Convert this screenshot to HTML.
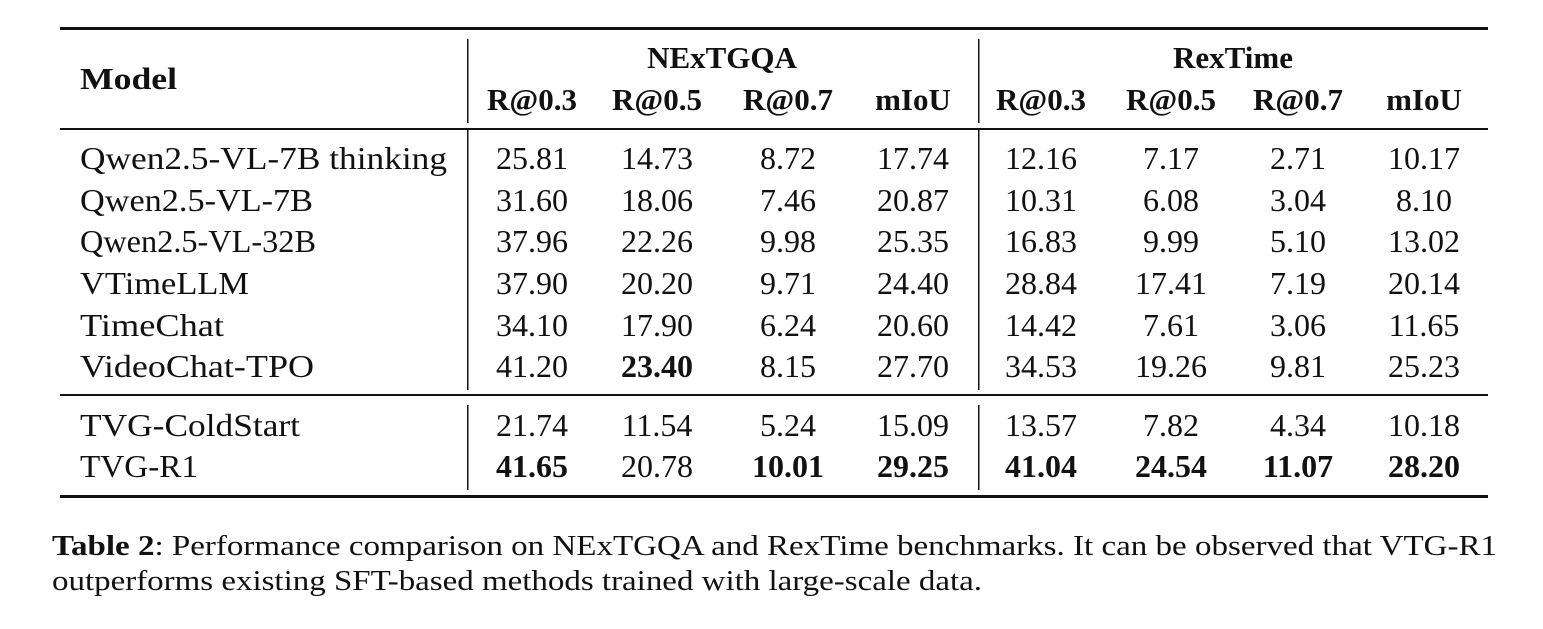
<!DOCTYPE html>
<html><head><meta charset="utf-8"><style>
html,body{margin:0;padding:0;background:#fff;}
svg{display:block;}
text{font-family:"Liberation Serif",serif;fill:#111;}
</style></head><body>
<svg width="1543" height="629" viewBox="0 0 1543 629">
<g id="rules">
<rect x="60" y="27" width="1428" height="3" fill="#111"/>
<rect x="60" y="128" width="1428" height="2" fill="#111"/>
<rect x="60" y="394" width="1428" height="2" fill="#111"/>
<rect x="60" y="495" width="1428" height="3" fill="#111"/>
<rect x="467" y="39" width="1.5" height="84" fill="#111"/>
<rect x="978" y="39" width="1.5" height="84" fill="#111"/>
<rect x="467" y="130" width="1.5" height="260" fill="#111"/>
<rect x="978" y="130" width="1.5" height="260" fill="#111"/>
<rect x="467" y="405" width="1.5" height="85" fill="#111"/>
<rect x="978" y="405" width="1.5" height="85" fill="#111"/>
</g>
<text x="80" y="89" font-size="31" font-weight="bold" textLength="97" lengthAdjust="spacingAndGlyphs">Model</text>
<text x="722" y="68" font-size="31" font-weight="bold" text-anchor="middle">NExTGQA</text>
<text x="1233" y="68" font-size="31" font-weight="bold" text-anchor="middle">RexTime</text>
<g id="subhdr"></g>
<g id="body"></g>
<text x="52" y="555" font-size="28" textLength="1445" lengthAdjust="spacingAndGlyphs"><tspan font-weight="bold">Table 2</tspan>: Performance comparison on NExTGQA and RexTime benchmarks. It can be observed that VTG-R1</text>
<text x="52" y="590" font-size="28" textLength="930" lengthAdjust="spacingAndGlyphs">outperforms existing SFT-based methods trained with large-scale data.</text>
</svg>
<script>
const subHeaders=["R@0.3","R@0.5","R@0.7","mIoU","R@0.3","R@0.5","R@0.7","mIoU"];
const models=["Qwen2.5-VL-7B thinking","Qwen2.5-VL-7B","Qwen2.5-VL-32B","VTimeLLM","TimeChat","VideoChat-TPO","TVG-ColdStart","TVG-R1"];
const nameWidths=[367,233,236,169,144,234,220,118];
const values=[
["25.81","14.73","8.72","17.74","12.16","7.17","2.71","10.17"],
["31.60","18.06","7.46","20.87","10.31","6.08","3.04","8.10"],
["37.96","22.26","9.98","25.35","16.83","9.99","5.10","13.02"],
["37.90","20.20","9.71","24.40","28.84","17.41","7.19","20.14"],
["34.10","17.90","6.24","20.60","14.42","7.61","3.06","11.65"],
["41.20","23.40","8.15","27.70","34.53","19.26","9.81","25.23"],
["21.74","11.54","5.24","15.09","13.57","7.82","4.34","10.18"],
["41.65","20.78","10.01","29.25","41.04","24.54","11.07","28.20"]];
const bold=[[],[],[],[],[],[1],[],[0,2,3,4,5,6,7]];
const colX=[532,657,788,913,1041,1171,1298,1424];
const rowY=[158,200,241,283,325,366,425,466];
const NS="http://www.w3.org/2000/svg";
const sh=document.getElementById('subhdr');
subHeaders.forEach((s,i)=>{const t=document.createElementNS(NS,'text');


t.setAttribute('x',colX[i]);t.setAttribute('y',110);t.setAttribute('font-size','31');t.setAttribute('font-weight','bold');t.setAttribute('text-anchor','middle');t.textContent=s;sh.appendChild(t);});
const b=document.getElementById('body');
models.forEach((m,r)=>{const t=document.createElementNS(NS,'text');


t.setAttribute('x',80);t.setAttribute('y',rowY[r]+11);t.setAttribute('font-size','32');t.setAttribute('textLength',nameWidths[r]);t.setAttribute('lengthAdjust','spacingAndGlyphs');t.textContent=m;b.appendChild(t);
values[r].forEach((v,c)=>{const n=document.createElementNS(NS,'text');


n.setAttribute('x',colX[c]);n.setAttribute('y',rowY[r]+11);n.setAttribute('font-size','32');n.setAttribute('text-anchor','middle');if(bold[r].includes(c))n.setAttribute('font-weight','bold');n.textContent=v;b.appendChild(n);});});
</script>
</body></html>
